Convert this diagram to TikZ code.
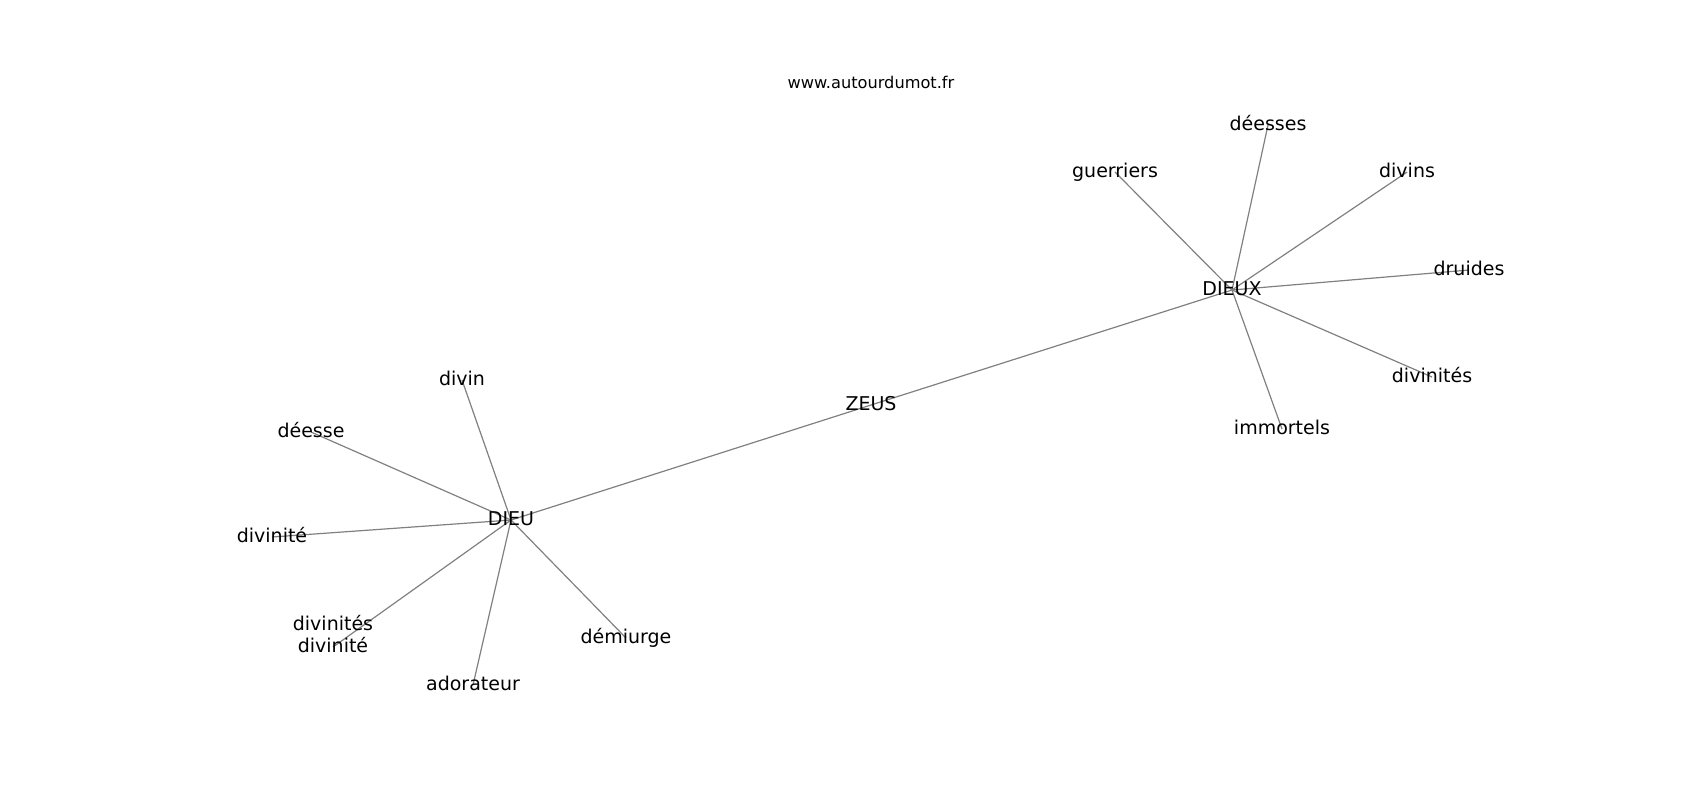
\documentclass[tikz,border=0pt]{standalone}
\usepackage{fontspec}
\setmainfont{DejaVu Sans}
\usepackage{tikz}
\usetikzlibrary{backgrounds}
\tikzset{
  wordnode/.style={inner sep=0pt, text height=0.76em, text depth=0.24em,
    align=center, font=\fontsize{9.5}{11}\selectfont},
  link/.style={draw=black!50, line width=0.6pt},
}
\begin{document}
\begin{tikzpicture}
[
x=0.5pt, y=-0.5pt,
titlenode/.style={inner sep=0pt, text height=0.76em, text depth=0.24em, font=\fontsize{8.1}{10}\selectfont},
]
\useasboundingbox (0,0) rectangle (1700,800);

%Nodes
\node[titlenode] (site)         at (871,83)   {www.autourdumot.fr};
\node[wordnode]  (zeus)         at (871,405)  {ZEUS};
\node[wordnode]  (dieu)         at (511,520)  {DIEU};
\node[wordnode]  (dieux)        at (1232,290) {DIEUX};
\node[wordnode]  (dieu-divin)   at (462,380)  {divin};
\node[wordnode]  (dieu-deesse)  at (311,432)  {déesse};
\node[wordnode]  (dieu-divinite) at (272,537) {divinité};
\node[wordnode]  (dieu-divinites) at (333,647) {divinités\\divinité};
\node[wordnode]  (dieu-adorateur) at (473,685) {adorateur};
\node[wordnode]  (dieu-demiurge) at (626,638) {démiurge};
\node[wordnode]  (dieux-guerriers) at (1115,172) {guerriers};
\node[wordnode]  (dieux-deesses) at (1268,125) {déesses};
\node[wordnode]  (dieux-divins)  at (1407,172) {divins};
\node[wordnode]  (dieux-druides) at (1469,270) {druides};
\node[wordnode]  (dieux-divinites) at (1432,377) {divinités};
\node[wordnode]  (dieux-immortels) at (1282,429) {immortels};

%Lines
\begin{pgfonlayer}{background}
\draw[link] (dieu.center) -- (zeus.center);
\draw[link] (zeus.center) -- (dieux.center);
\draw[link] (dieu.center) -- (dieu-divin.center);
\draw[link] (dieu.center) -- (dieu-deesse.center);
\draw[link] (dieu.center) -- (dieu-divinite.center);
\draw[link] (dieu.center) -- (dieu-divinites.center);
\draw[link] (dieu.center) -- (dieu-adorateur.center);
\draw[link] (dieu.center) -- (dieu-demiurge.center);
\draw[link] (dieux.center) -- (dieux-guerriers.center);
\draw[link] (dieux.center) -- (dieux-deesses.center);
\draw[link] (dieux.center) -- (dieux-divins.center);
\draw[link] (dieux.center) -- (dieux-druides.center);
\draw[link] (dieux.center) -- (dieux-divinites.center);
\draw[link] (dieux.center) -- (dieux-immortels.center);
\end{pgfonlayer}

\end{tikzpicture}
\end{document}
